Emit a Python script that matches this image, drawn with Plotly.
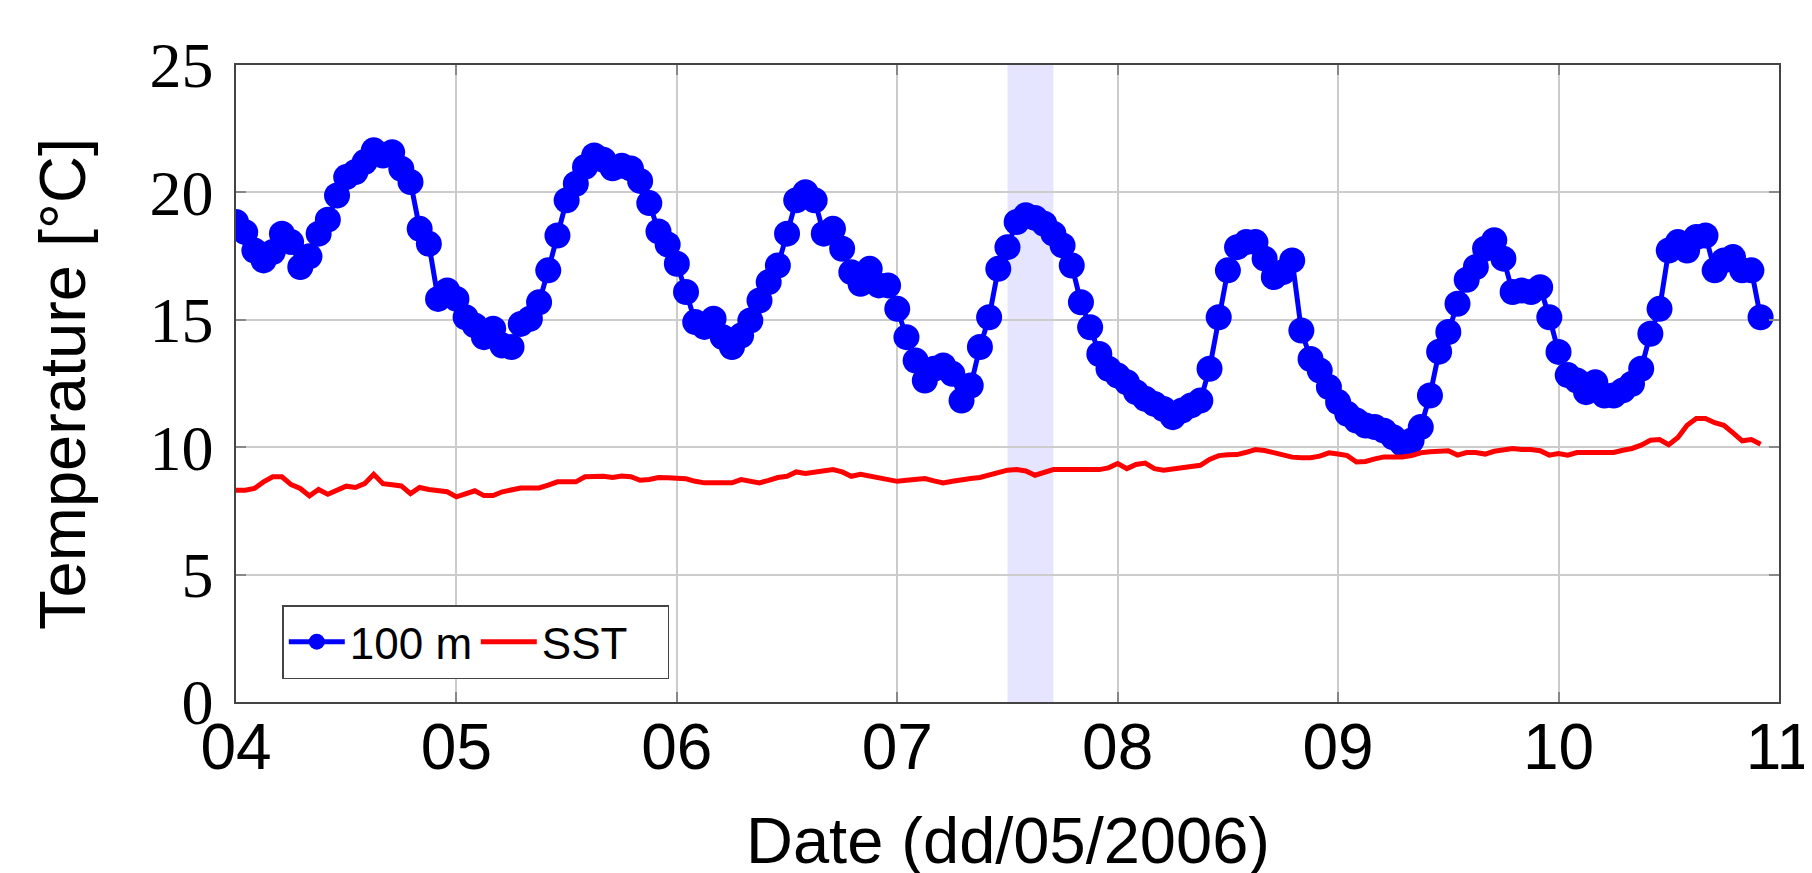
import pandas as pd
import plotly.graph_objects as go

# Hourly sample times, 04/05/2006 00:00 onwards
start_time = "2006-05-04 00:00"

temp_100m = [
    18.84, 18.44, 17.72, 17.33, 17.66, 18.38, 18.05, 17.07, 17.49, 18.38,
    18.93, 19.88, 20.60, 20.80, 21.19, 21.65, 21.45, 21.58, 20.93, 20.41,
    18.57, 17.98, 15.82, 16.15, 15.82, 15.10, 14.78, 14.32, 14.65, 13.99,
    13.93, 14.84, 15.04, 15.69, 16.94, 18.31, 19.69, 20.34, 21.00, 21.45,
    21.28, 20.95, 21.05, 20.94, 20.45, 19.58, 18.47, 17.96, 17.20, 16.09,
    14.91, 14.72, 15.04, 14.32, 13.93, 14.38, 14.97, 15.76, 16.48, 17.13,
    18.38, 19.69, 20.01, 19.69, 18.38, 18.57, 17.79, 16.87, 16.41, 17.00,
    16.35, 16.35, 15.43, 14.32, 13.40, 12.62, 13.08, 13.21, 12.88, 11.83,
    12.42, 13.93, 15.10, 17.00, 17.85, 18.84, 19.10, 19.00, 18.77, 18.38,
    17.92, 17.13, 15.69, 14.71, 13.66, 13.08, 12.81, 12.55, 12.16, 11.90,
    11.70, 11.50, 11.18, 11.44, 11.64, 11.83, 13.08, 15.10, 16.94, 17.85,
    18.05, 18.05, 17.40, 16.68, 16.87, 17.33, 14.58, 13.46, 13.01, 12.36,
    11.77, 11.31, 11.05, 10.85, 10.79, 10.65, 10.39, 10.13, 10.26, 10.79,
    12.03, 13.75, 14.52, 15.63, 16.57, 17.07, 17.79, 18.12, 17.40, 16.09,
    16.15, 16.09, 16.28, 15.10, 13.74, 12.83, 12.62, 12.16, 12.55, 12.03,
    12.03, 12.23, 12.49, 13.08, 14.45, 15.43, 17.72, 18.05, 17.72, 18.25,
    18.31, 16.94, 17.33, 17.46, 16.94, 16.94, 15.10,
]

temp_sst = [
    8.31, 8.31, 8.38, 8.64, 8.84, 8.84, 8.53, 8.38, 8.09, 8.34,
    8.15, 8.31, 8.47, 8.42, 8.57, 8.94, 8.57, 8.53, 8.48, 8.18,
    8.42, 8.34, 8.29, 8.25, 8.05, 8.15, 8.29, 8.10, 8.10, 8.25,
    8.35, 8.40, 8.40, 8.40, 8.51, 8.64, 8.64, 8.64, 8.84, 8.84,
    8.86, 8.81, 8.87, 8.84, 8.70, 8.73, 8.81, 8.80, 8.77, 8.76,
    8.66, 8.60, 8.60, 8.60, 8.60, 8.73, 8.66, 8.60, 8.70, 8.81,
    8.86, 9.03, 8.97, 9.02, 9.07, 9.12, 9.03, 8.86, 8.94, 8.87,
    8.81, 8.73, 8.66, 8.70, 8.73, 8.77, 8.68, 8.60, 8.66, 8.73,
    8.77, 8.81, 8.90, 8.99, 9.10, 9.12, 9.07, 8.90, 9.03, 9.12,
    9.12, 9.12, 9.12, 9.12, 9.12, 9.19, 9.36, 9.16, 9.32, 9.38,
    9.16, 9.10, 9.14, 9.19, 9.23, 9.29, 9.52, 9.67, 9.70, 9.71,
    9.80, 9.91, 9.87, 9.80, 9.71, 9.61, 9.59, 9.59, 9.65, 9.78,
    9.73, 9.67, 9.42, 9.44, 9.54, 9.62, 9.62, 9.62, 9.67, 9.78,
    9.82, 9.82, 9.86, 9.69, 9.79, 9.79, 9.73, 9.84, 9.91, 9.95,
    9.91, 9.91, 9.86, 9.69, 9.75, 9.69, 9.79, 9.79, 9.75, 9.75,
    9.79, 9.88, 9.95, 10.08, 10.27, 10.30, 10.10, 10.38, 10.86, 11.13,
    11.13, 10.96, 10.86, 10.56, 10.25, 10.30, 10.12,
]

x_ticks = ["2006-05-04", "2006-05-05", "2006-05-06", "2006-05-07",
           "2006-05-08", "2006-05-09", "2006-05-10", "2006-05-11"]
x_tick_labels = ["04", "05", "06", "07", "08", "09", "10", "11"]
y_ticks = [0, 5, 10, 15, 20, 25]
band_start = "2006-05-07 12:00"
band_end = "2006-05-07 17:00"

times = pd.date_range(start_time, periods=len(temp_100m), freq="h")

fig = go.Figure()
fig.add_trace(go.Scatter(
    x=times, y=temp_100m, mode="lines+markers", name="100 m",
    line=dict(color="#0000ff", width=5),
    marker=dict(color="#0000ff", size=26, symbol="circle"),
))
fig.add_trace(go.Scatter(
    x=times, y=temp_sst, mode="lines", name="SST",
    line=dict(color="#ff0000", width=5),
))

fig.add_vrect(x0=band_start, x1=band_end, fillcolor="rgba(0,0,255,0.1)",
              line_width=0, layer="below")

axis_common = dict(
    showgrid=True, gridcolor="#cccccc", gridwidth=1.5,
    showline=True, linecolor="#444444", linewidth=1.5, mirror="allticks",
    ticks="inside", ticklen=10, tickcolor="#888888", tickwidth=1.5,
    zeroline=False, automargin=False,
)

fig.update_layout(
    width=1804, height=865,
    paper_bgcolor="white", plot_bgcolor="white",
    margin=dict(l=228, r=33, t=57, b=171, autoexpand=False),
    showlegend=True,
    legend=dict(
        orientation="h", x=0.03, y=0.036, xanchor="left", yanchor="bottom",
        bgcolor="white", bordercolor="#444444", borderwidth=1.5,
        font=dict(family="Liberation Sans, Arial, sans-serif", size=44, color="black"),
        tracegroupgap=0, itemwidth=56, entrywidth=121, entrywidthmode="pixels",
    ),
    xaxis=dict(
        axis_common,
        range=["2006-05-04 00:00:00", "2006-05-11 00:00:20"],
        tickvals=x_ticks, ticktext=x_tick_labels,
        ticklabelstandoff=-12, ticklabeloverflow="allow",
        tickfont=dict(family="Liberation Sans, Arial, sans-serif", size=64, color="black"),
    ),
    yaxis=dict(
        axis_common,
        range=[0, 25], tickvals=y_ticks,
        ticklabelstandoff=8,
        tickfont=dict(family="Liberation Serif, Times New Roman, serif", size=64, color="black"),
    ),
    annotations=[
        dict(text="Temperature [°C]", xref="paper", yref="paper",
             x=-0.1125, y=0.5, xanchor="center", yanchor="middle",
             textangle=-90, showarrow=False,
             font=dict(family="Liberation Sans, Arial, sans-serif", size=65, color="black")),
        dict(text="Date (dd/05/2006)", xref="paper", yref="paper",
             x=0.5, y=-0.217, xanchor="center", yanchor="middle",
             showarrow=False,
             font=dict(family="Liberation Sans, Arial, sans-serif", size=65, color="black")),
    ],
)

fig.write_html("out.html")
